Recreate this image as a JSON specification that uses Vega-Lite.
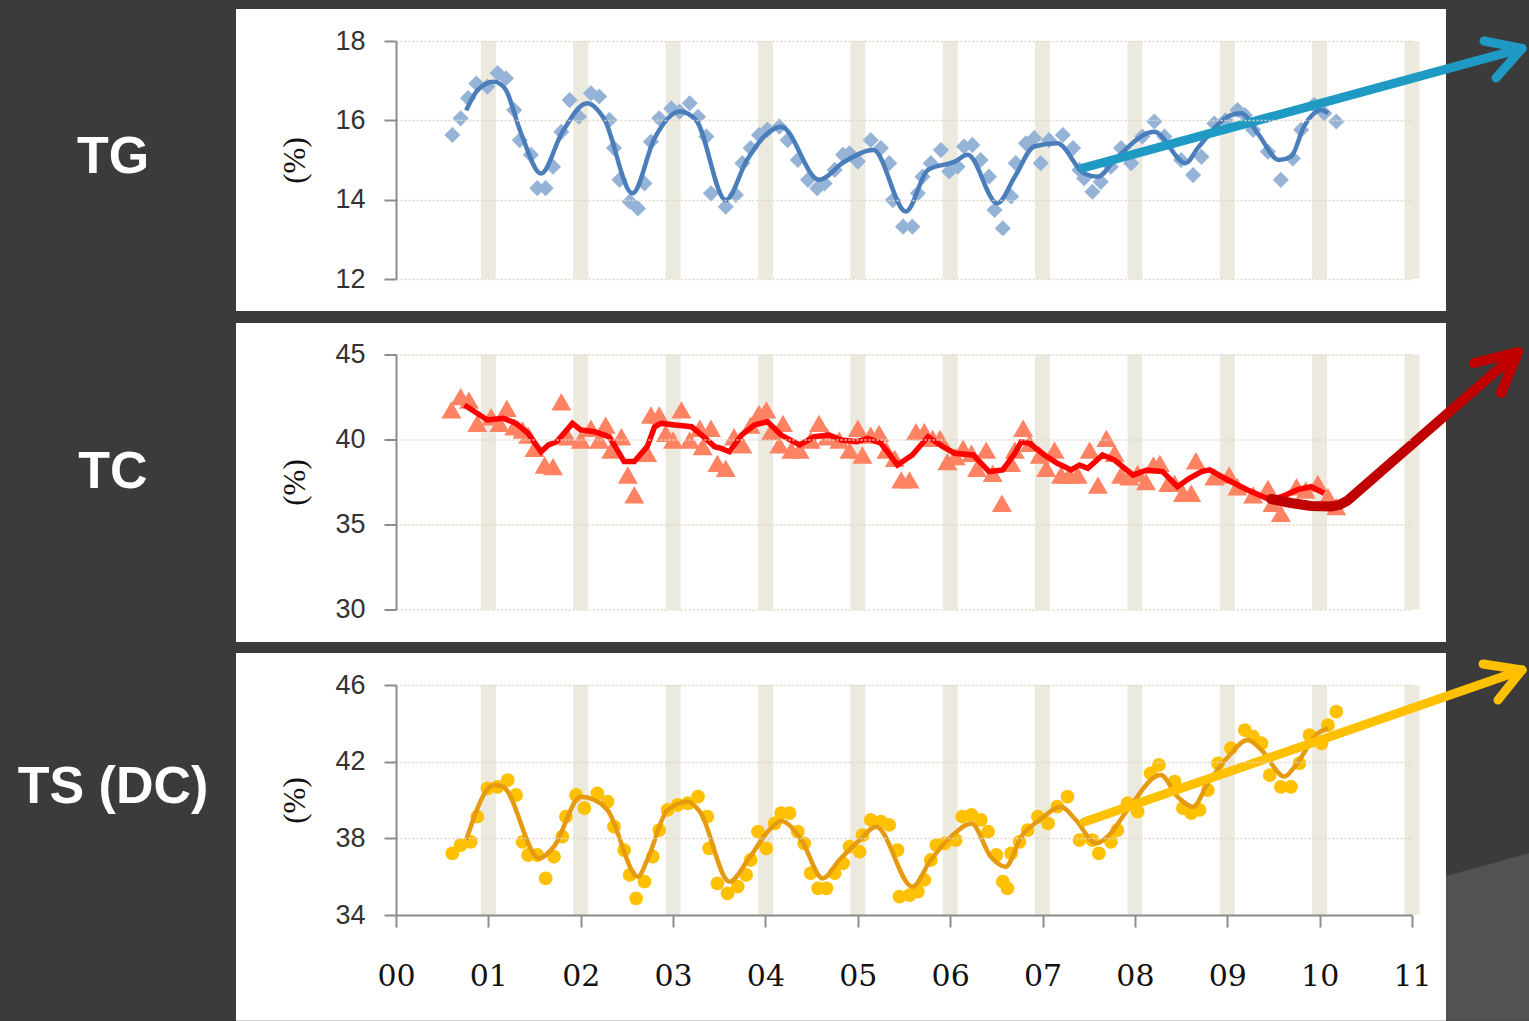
{
"$schema": "https://vega.github.io/schema/vega-lite/v6.json",
"background": "#3b3b3b",
"padding": 0,
"autosize": {"type": "pad"},
"bounds": "flush",
"spacing": 75.5,
"config": {
  "view": {"stroke": null},
  "axis": {"grid": false, "domainColor": "#8c8c8c", "domainWidth": 2, "tickColor": "#8c8c8c", "tickWidth": 2, "tickSize": 12, "labelColor": "#333333", "labelFlush": false},
  "axisY": {"grid": true, "gridColor": "#DDD7C8", "gridDash": [2, 2], "gridWidth": 1.5, "labelFont": "Liberation Sans", "labelFontSize": 27, "labelPadding": 19, "titleFont": "Liberation Serif", "titleFontSize": 31, "titleFontWeight": "normal", "titleColor": "#111111", "titleAngle": -90, "titleAlign": "center", "titleBaseline": "middle"},
  "axisX": {"labelFont": "DejaVu Serif", "labelFontSize": 30, "labelColor": "#111111", "labelPadding": 34, "grid": false}
},
"datasets": {
  "bands": [{"yr":1},{"yr":2},{"yr":3},{"yr":4},{"yr":5},{"yr":6},{"yr":7},{"yr":8},{"yr":9},{"yr":10},{"yr":11}],
  "tg": [
{"t":0.61,"v":15.63},{"t":0.70,"v":16.05},{"t":0.78,"v":16.56},{"t":0.87,"v":16.93},{"t":0.99,"v":16.85},{"t":1.10,"v":17.19},{"t":1.19,"v":17.06},{"t":1.28,"v":16.26},{"t":1.34,"v":15.50},{"t":1.46,"v":15.13},{"t":1.53,"v":14.29},{"t":1.62,"v":14.29},{"t":1.70,"v":14.83},{"t":1.79,"v":15.71},{"t":1.88,"v":16.51},{"t":1.98,"v":16.09},{"t":2.11,"v":16.68},{"t":2.20,"v":16.60},{"t":2.31,"v":16.01},{"t":2.36,"v":15.30},{"t":2.42,"v":14.50},{"t":2.53,"v":13.95},{"t":2.62,"v":13.78},{"t":2.69,"v":14.41},{"t":2.76,"v":15.46},{"t":2.85,"v":16.05},{"t":2.98,"v":16.30},{"t":3.07,"v":16.22},{"t":3.18,"v":16.43},{"t":3.27,"v":16.09},{"t":3.36,"v":15.59},{"t":3.41,"v":14.16},{"t":3.57,"v":13.82},{"t":3.68,"v":14.12},{"t":3.75,"v":14.92},{"t":3.84,"v":15.30},{"t":3.93,"v":15.63},{"t":4.02,"v":15.76},{"t":4.15,"v":15.84},{"t":4.24,"v":15.50},{"t":4.35,"v":15.00},{"t":4.46,"v":14.50},{"t":4.56,"v":14.29},{"t":4.64,"v":14.41},{"t":4.75,"v":14.75},{"t":4.84,"v":15.13},{"t":4.91,"v":15.17},{"t":5.00,"v":14.96},{"t":5.14,"v":15.50},{"t":5.25,"v":15.30},{"t":5.34,"v":14.92},{"t":5.38,"v":13.99},{"t":5.49,"v":13.32},{"t":5.59,"v":13.32},{"t":5.65,"v":14.16},{"t":5.70,"v":14.58},{"t":5.79,"v":14.92},{"t":5.90,"v":15.25},{"t":5.99,"v":14.71},{"t":6.08,"v":14.83},{"t":6.15,"v":15.34},{"t":6.24,"v":15.38},{"t":6.33,"v":15.00},{"t":6.42,"v":14.58},{"t":6.48,"v":13.74},{"t":6.57,"v":13.28},{"t":6.66,"v":14.08},{"t":6.71,"v":14.92},{"t":6.82,"v":15.42},{"t":6.91,"v":15.55},{"t":6.98,"v":14.92},{"t":7.07,"v":15.50},{"t":7.22,"v":15.63},{"t":7.33,"v":15.30},{"t":7.40,"v":14.75},{"t":7.45,"v":14.54},{"t":7.54,"v":14.20},{"t":7.63,"v":14.45},{"t":7.74,"v":14.83},{"t":7.85,"v":15.30},{"t":7.96,"v":14.92},{"t":8.08,"v":15.59},{"t":8.21,"v":15.97},{"t":8.32,"v":15.59},{"t":8.50,"v":15.00},{"t":8.63,"v":14.62},{"t":8.72,"v":15.08},{"t":8.86,"v":15.92},{"t":8.98,"v":16.00},{"t":9.11,"v":16.26},{"t":9.19,"v":16.13},{"t":9.28,"v":15.76},{"t":9.44,"v":15.21},{"t":9.58,"v":14.50},{"t":9.71,"v":15.04},{"t":9.80,"v":15.76},{"t":9.94,"v":16.39},{"t":10.05,"v":16.18},{"t":10.18,"v":15.97}
  ],
  "tg_line": [
{"t":0.76,"v":16.25},{"t":0.88,"v":16.75},{"t":1.06,"v":16.97},{"t":1.18,"v":16.80},{"t":1.35,"v":15.70},{"t":1.57,"v":14.66},{"t":1.80,"v":15.70},{"t":2.07,"v":16.43},{"t":2.25,"v":16.05},{"t":2.56,"v":14.16},{"t":2.80,"v":15.55},{"t":3.07,"v":16.22},{"t":3.25,"v":16.00},{"t":3.57,"v":13.99},{"t":3.80,"v":15.00},{"t":4.02,"v":15.67},{"t":4.17,"v":15.84},{"t":4.58,"v":14.50},{"t":4.85,"v":14.95},{"t":5.17,"v":15.25},{"t":5.52,"v":13.70},{"t":5.76,"v":14.75},{"t":6.05,"v":14.96},{"t":6.19,"v":15.13},{"t":6.51,"v":13.91},{"t":6.70,"v":14.58},{"t":6.91,"v":15.34},{"t":7.16,"v":15.42},{"t":7.45,"v":14.66},{"t":7.60,"v":14.58},{"t":7.78,"v":15.00},{"t":8.21,"v":15.71},{"t":8.55,"v":14.92},{"t":8.68,"v":15.30},{"t":9.04,"v":16.13},{"t":9.15,"v":16.18},{"t":9.33,"v":15.67},{"t":9.56,"v":15.00},{"t":9.69,"v":15.08},{"t":9.83,"v":15.84},{"t":10.02,"v":16.26},{"t":10.09,"v":16.18}
  ],
  "tc": [
{"t":0.60,"v":41.74},{"t":0.70,"v":42.52},{"t":0.79,"v":42.32},{"t":0.88,"v":40.95},{"t":1.03,"v":41.34},{"t":1.12,"v":40.95},{"t":1.20,"v":41.83},{"t":1.28,"v":40.75},{"t":1.37,"v":40.56},{"t":1.43,"v":40.26},{"t":1.50,"v":39.48},{"t":1.61,"v":38.50},{"t":1.70,"v":38.40},{"t":1.79,"v":42.22},{"t":1.86,"v":40.16},{"t":2.00,"v":39.97},{"t":2.11,"v":40.66},{"t":2.20,"v":39.97},{"t":2.27,"v":40.85},{"t":2.33,"v":39.38},{"t":2.44,"v":40.16},{"t":2.51,"v":37.91},{"t":2.58,"v":36.74},{"t":2.72,"v":39.19},{"t":2.76,"v":41.44},{"t":2.85,"v":41.44},{"t":2.92,"v":40.36},{"t":3.00,"v":39.97},{"t":3.09,"v":41.74},{"t":3.18,"v":39.97},{"t":3.29,"v":40.66},{"t":3.32,"v":39.58},{"t":3.41,"v":40.66},{"t":3.48,"v":38.60},{"t":3.57,"v":38.30},{"t":3.66,"v":40.16},{"t":3.75,"v":39.68},{"t":3.84,"v":40.85},{"t":3.93,"v":41.54},{"t":4.01,"v":41.74},{"t":4.06,"v":40.46},{"t":4.15,"v":39.68},{"t":4.19,"v":40.95},{"t":4.28,"v":39.38},{"t":4.37,"v":39.38},{"t":4.49,"v":39.97},{"t":4.58,"v":40.95},{"t":4.67,"v":40.16},{"t":4.80,"v":39.97},{"t":4.91,"v":39.38},{"t":5.00,"v":40.66},{"t":5.05,"v":39.09},{"t":5.14,"v":40.26},{"t":5.23,"v":40.36},{"t":5.31,"v":39.38},{"t":5.40,"v":38.89},{"t":5.47,"v":37.62},{"t":5.56,"v":37.62},{"t":5.63,"v":40.46},{"t":5.72,"v":40.46},{"t":5.81,"v":40.07},{"t":5.89,"v":40.07},{"t":5.97,"v":38.70},{"t":6.06,"v":38.99},{"t":6.14,"v":39.48},{"t":6.23,"v":39.19},{"t":6.29,"v":38.30},{"t":6.39,"v":39.38},{"t":6.46,"v":38.01},{"t":6.56,"v":36.25},{"t":6.66,"v":38.60},{"t":6.70,"v":39.38},{"t":6.79,"v":40.66},{"t":6.86,"v":39.78},{"t":6.97,"v":39.09},{"t":7.04,"v":38.30},{"t":7.13,"v":39.38},{"t":7.20,"v":37.91},{"t":7.29,"v":37.91},{"t":7.38,"v":37.91},{"t":7.51,"v":39.38},{"t":7.60,"v":37.32},{"t":7.69,"v":40.07},{"t":7.78,"v":39.19},{"t":7.85,"v":37.91},{"t":7.94,"v":37.81},{"t":8.03,"v":38.01},{"t":8.12,"v":37.52},{"t":8.20,"v":38.50},{"t":8.27,"v":38.60},{"t":8.36,"v":37.42},{"t":8.43,"v":37.42},{"t":8.52,"v":36.84},{"t":8.61,"v":36.84},{"t":8.66,"v":38.75},{"t":8.86,"v":37.81},{"t":9.02,"v":37.91},{"t":9.11,"v":37.22},{"t":9.28,"v":36.74},{"t":9.44,"v":37.13},{"t":9.49,"v":36.25},{"t":9.58,"v":35.66},{"t":9.75,"v":37.22},{"t":9.85,"v":37.03},{"t":9.98,"v":37.42},{"t":10.09,"v":36.64},{"t":10.18,"v":36.05}
  ],
  "tc_line": [
{"t":0.74,"v":42.03},{"t":0.99,"v":41.15},{"t":1.16,"v":41.25},{"t":1.30,"v":40.95},{"t":1.43,"v":40.36},{"t":1.57,"v":39.28},{"t":1.65,"v":39.68},{"t":1.74,"v":39.87},{"t":1.91,"v":40.95},{"t":2.00,"v":40.56},{"t":2.15,"v":40.46},{"t":2.31,"v":40.16},{"t":2.47,"v":38.70},{"t":2.58,"v":38.70},{"t":2.72,"v":39.58},{"t":2.80,"v":40.75},{"t":2.87,"v":40.95},{"t":3.02,"v":40.85},{"t":3.20,"v":40.75},{"t":3.31,"v":40.26},{"t":3.45,"v":39.58},{"t":3.52,"v":39.48},{"t":3.61,"v":39.28},{"t":3.74,"v":40.26},{"t":3.88,"v":40.85},{"t":4.02,"v":41.05},{"t":4.17,"v":40.26},{"t":4.37,"v":39.68},{"t":4.53,"v":40.16},{"t":4.69,"v":40.26},{"t":4.82,"v":39.97},{"t":4.99,"v":39.87},{"t":5.11,"v":40.07},{"t":5.25,"v":39.78},{"t":5.43,"v":38.50},{"t":5.59,"v":39.09},{"t":5.76,"v":40.16},{"t":5.92,"v":39.58},{"t":6.05,"v":39.19},{"t":6.25,"v":39.09},{"t":6.42,"v":38.11},{"t":6.57,"v":38.21},{"t":6.70,"v":39.19},{"t":6.77,"v":39.87},{"t":6.86,"v":39.78},{"t":7.02,"v":39.09},{"t":7.16,"v":38.60},{"t":7.31,"v":38.21},{"t":7.40,"v":38.50},{"t":7.49,"v":38.30},{"t":7.65,"v":39.09},{"t":7.78,"v":38.79},{"t":7.98,"v":37.91},{"t":8.13,"v":38.21},{"t":8.30,"v":38.11},{"t":8.46,"v":37.22},{"t":8.59,"v":37.72},{"t":8.72,"v":38.11},{"t":8.81,"v":38.21},{"t":8.97,"v":37.72},{"t":9.22,"v":37.03},{"t":9.47,"v":36.44},{"t":9.62,"v":36.70},{"t":9.76,"v":37.05},{"t":9.91,"v":37.22},{"t":10.05,"v":36.84}
  ],
  "ts": [
{"t":0.61,"v":37.22},{"t":0.70,"v":37.65},{"t":0.81,"v":37.82},{"t":0.88,"v":39.13},{"t":0.99,"v":40.61},{"t":1.10,"v":40.69},{"t":1.21,"v":41.04},{"t":1.30,"v":40.26},{"t":1.37,"v":37.82},{"t":1.43,"v":37.13},{"t":1.53,"v":37.13},{"t":1.62,"v":35.91},{"t":1.71,"v":37.04},{"t":1.80,"v":38.09},{"t":1.84,"v":39.13},{"t":1.95,"v":40.26},{"t":2.04,"v":39.57},{"t":2.18,"v":40.35},{"t":2.29,"v":39.91},{"t":2.36,"v":38.61},{"t":2.47,"v":37.39},{"t":2.53,"v":36.09},{"t":2.60,"v":34.87},{"t":2.69,"v":35.74},{"t":2.78,"v":37.04},{"t":2.85,"v":38.43},{"t":2.94,"v":39.48},{"t":3.05,"v":39.74},{"t":3.16,"v":39.83},{"t":3.27,"v":40.17},{"t":3.37,"v":39.13},{"t":3.39,"v":37.48},{"t":3.48,"v":35.65},{"t":3.59,"v":35.13},{"t":3.70,"v":35.48},{"t":3.79,"v":36.09},{"t":3.84,"v":36.87},{"t":3.92,"v":38.35},{"t":4.01,"v":37.48},{"t":4.10,"v":38.78},{"t":4.17,"v":39.31},{"t":4.26,"v":39.31},{"t":4.35,"v":38.35},{"t":4.42,"v":37.74},{"t":4.49,"v":36.18},{"t":4.57,"v":35.39},{"t":4.66,"v":35.39},{"t":4.75,"v":36.18},{"t":4.84,"v":36.70},{"t":4.91,"v":37.57},{"t":5.02,"v":37.30},{"t":5.05,"v":38.17},{"t":5.14,"v":38.96},{"t":5.25,"v":38.87},{"t":5.34,"v":38.70},{"t":5.43,"v":37.39},{"t":5.45,"v":34.96},{"t":5.56,"v":35.04},{"t":5.65,"v":35.22},{"t":5.72,"v":35.83},{"t":5.79,"v":36.87},{"t":5.85,"v":37.65},{"t":5.94,"v":37.74},{"t":6.06,"v":37.91},{"t":6.13,"v":39.13},{"t":6.23,"v":39.22},{"t":6.33,"v":38.96},{"t":6.41,"v":38.35},{"t":6.50,"v":37.13},{"t":6.57,"v":35.74},{"t":6.62,"v":35.39},{"t":6.66,"v":37.22},{"t":6.75,"v":37.82},{"t":6.84,"v":38.43},{"t":6.95,"v":39.13},{"t":7.06,"v":38.78},{"t":7.16,"v":39.65},{"t":7.27,"v":40.17},{"t":7.40,"v":37.91},{"t":7.54,"v":37.91},{"t":7.61,"v":37.22},{"t":7.74,"v":37.82},{"t":7.81,"v":38.43},{"t":7.92,"v":39.83},{"t":8.03,"v":39.39},{"t":8.17,"v":41.39},{"t":8.26,"v":41.83},{"t":8.43,"v":40.96},{"t":8.52,"v":39.57},{"t":8.61,"v":39.31},{"t":8.70,"v":39.48},{"t":8.79,"v":40.52},{"t":8.90,"v":41.91},{"t":9.04,"v":42.70},{"t":9.19,"v":43.65},{"t":9.28,"v":43.30},{"t":9.37,"v":42.96},{"t":9.46,"v":41.30},{"t":9.58,"v":40.69},{"t":9.69,"v":40.69},{"t":9.78,"v":41.91},{"t":9.89,"v":43.39},{"t":10.02,"v":42.96},{"t":10.09,"v":43.91},{"t":10.18,"v":44.61}
  ],
  "ts_line": [
{"t":0.76,"v":37.91},{"t":1.06,"v":40.78},{"t":1.16,"v":40.69},{"t":1.55,"v":36.96},{"t":1.71,"v":37.57},{"t":2.00,"v":40.17},{"t":2.15,"v":40.00},{"t":2.29,"v":39.48},{"t":2.62,"v":36.00},{"t":2.72,"v":36.87},{"t":2.94,"v":39.48},{"t":3.16,"v":39.91},{"t":3.29,"v":39.39},{"t":3.61,"v":35.74},{"t":3.81,"v":36.87},{"t":4.04,"v":38.43},{"t":4.17,"v":38.90},{"t":4.39,"v":37.91},{"t":4.62,"v":35.91},{"t":4.80,"v":36.87},{"t":5.00,"v":37.82},{"t":5.20,"v":38.61},{"t":5.59,"v":35.48},{"t":5.79,"v":36.87},{"t":6.01,"v":38.09},{"t":6.23,"v":38.78},{"t":6.44,"v":37.04},{"t":6.60,"v":36.52},{"t":6.77,"v":38.09},{"t":6.97,"v":38.96},{"t":7.20,"v":39.65},{"t":7.36,"v":38.96},{"t":7.58,"v":37.74},{"t":7.72,"v":38.17},{"t":7.92,"v":39.48},{"t":8.28,"v":41.30},{"t":8.46,"v":40.17},{"t":8.63,"v":39.65},{"t":8.79,"v":40.87},{"t":9.01,"v":42.26},{"t":9.22,"v":43.13},{"t":9.37,"v":42.61},{"t":9.62,"v":41.22},{"t":9.73,"v":41.74},{"t":9.98,"v":43.48},{"t":10.09,"v":43.74}
  ]
},
"vconcat": [
{
  "width": 1016, "height": 238,
  "layer": [
    {"data": {"values": [{}]}, "mark": {"type": "rect", "color": "#3b3b3b"},
     "encoding": {"x": {"datum": -4.2766, "type": "quantitative", "scale": {"domain": [0, 11], "nice": false, "zero": false}, "axis": null}, "x2": {"datum": 12.2775},
                  "y": {"datum": 19.0336, "type": "quantitative", "scale": {"domain": [12, 18], "nice": false, "zero": false}, "axis": {"values": [12, 14, 16, 18], "title": "(%)", "titleX": -101, "titleY": 119, "zindex": 1}}, "y2": {"datum": -6.7059}}},
    {"data": {"values": [{}]}, "mark": {"type": "rect", "color": "#ffffff"},
     "encoding": {"x": {"datum": -1.7323, "type": "quantitative", "scale": {"domain": [0, 11], "nice": false, "zero": false}, "axis": null}, "x2": {"datum": 11.368},
                  "y": {"datum": 18.807, "type": "quantitative", "scale": {"domain": [12, 18], "nice": false, "zero": false}, "axis": {"values": [12, 14, 16, 18], "title": "(%)", "titleX": -101, "titleY": 119, "zindex": 1}}, "y2": {"datum": 11.193}}},
    {"data": {"name": "bands"}, "mark": {"type": "rule", "color": "#ECE9DF", "strokeWidth": 15},
     "encoding": {"x": {"field": "yr", "type": "quantitative", "scale": {"domain": [0, 11], "nice": false, "zero": false}, "axis": null}}},
    {"data": {"name": "tg"}, "mark": {"type": "point", "shape": "diamond", "filled": true, "size": 260, "color": "#95B3D7", "opacity": 1},
     "encoding": {"x": {"field": "t", "type": "quantitative", "scale": {"domain": [0, 11], "nice": false, "zero": false}, "axis": null},
                  "y": {"field": "v", "type": "quantitative", "scale": {"domain": [12, 18], "nice": false, "zero": false}, "axis": {"values": [12, 14, 16, 18], "title": "(%)", "titleX": -101, "titleY": 119, "zindex": 1}}}},
    {"data": {"name": "tg_line"}, "mark": {"type": "line", "color": "#4A7EBB", "strokeWidth": 4.5, "interpolate": "monotone"},
     "encoding": {"x": {"field": "t", "type": "quantitative", "scale": {"domain": [0, 11], "nice": false, "zero": false}, "axis": null},
                  "y": {"field": "v", "type": "quantitative", "scale": {"domain": [12, 18], "nice": false, "zero": false}, "axis": {"values": [12, 14, 16, 18], "title": "(%)", "titleX": -101, "titleY": 119, "zindex": 1}}}},
    {"data": {"values": [{"t": 7.438, "v": 14.798, "t2": 12.191, "v2": 17.813}, {"t": 11.780, "v": 18.0, "t2": 12.191, "v2": 17.813}, {"t": 11.910, "v": 17.067, "t2": 12.191, "v2": 17.813}]},
     "mark": {"type": "rule", "color": "#1E9AC5", "strokeWidth": 9, "strokeCap": "round"},
     "encoding": {"x": {"field": "t", "type": "quantitative", "scale": {"domain": [0, 11], "nice": false, "zero": false}, "axis": null}, "x2": {"field": "t2"},
                  "y": {"field": "v", "type": "quantitative", "scale": {"domain": [12, 18], "nice": false, "zero": false}, "axis": {"values": [12, 14, 16, 18], "title": "(%)", "titleX": -101, "titleY": 119, "zindex": 1}}, "y2": {"field": "v2"}}},
    {"data": {"values": [{"label": "TG"}]}, "mark": {"type": "text", "font": "Liberation Sans", "fontWeight": "bold", "fontSize": 52, "color": "#ffffff", "align": "center", "baseline": "alphabetic"},
     "encoding": {"x": {"datum": -3.064, "type": "quantitative", "scale": {"domain": [0, 11], "nice": false, "zero": false}, "axis": null},
                  "y": {"datum": 14.672, "type": "quantitative", "scale": {"domain": [12, 18], "nice": false, "zero": false}, "axis": {"values": [12, 14, 16, 18], "title": "(%)", "titleX": -101, "titleY": 119, "zindex": 1}},
                  "text": {"field": "label"}}}
  ]
},
{
  "width": 1016, "height": 255,
  "layer": [
    {"data": {"values": [{}]}, "mark": {"type": "rect", "color": "#ffffff"},
     "encoding": {"x": {"datum": -1.7323, "type": "quantitative", "scale": {"domain": [0, 11], "nice": false, "zero": false}, "axis": null}, "x2": {"datum": 11.368},
                  "y": {"datum": 46.853, "type": "quantitative", "scale": {"domain": [30, 45], "nice": false, "zero": false}, "axis": {"values": [30, 35, 40, 45], "title": "(%)", "titleX": -101, "titleY": 127.5, "zindex": 1}}, "y2": {"datum": 28.088}}},
    {"data": {"name": "bands"}, "mark": {"type": "rule", "color": "#ECE9DF", "strokeWidth": 15},
     "encoding": {"x": {"field": "yr", "type": "quantitative", "scale": {"domain": [0, 11], "nice": false, "zero": false}, "axis": null}}},
    {"data": {"name": "tc"}, "mark": {"type": "point", "shape": "triangle-up", "filled": true, "size": 400, "color": "#FF8262", "opacity": 1},
     "encoding": {"x": {"field": "t", "type": "quantitative", "scale": {"domain": [0, 11], "nice": false, "zero": false}, "axis": null},
                  "y": {"field": "v", "type": "quantitative", "scale": {"domain": [30, 45], "nice": false, "zero": false}, "axis": {"values": [30, 35, 40, 45], "title": "(%)", "titleX": -101, "titleY": 127.5, "zindex": 1}}}},
    {"data": {"name": "tc_line"}, "mark": {"type": "line", "color": "#FF0000", "strokeWidth": 5.5},
     "encoding": {"x": {"field": "t", "type": "quantitative", "scale": {"domain": [0, 11], "nice": false, "zero": false}, "axis": null},
                  "y": {"field": "v", "type": "quantitative", "scale": {"domain": [30, 45], "nice": false, "zero": false}, "axis": {"values": [30, 35, 40, 45], "title": "(%)", "titleX": -101, "titleY": 127.5, "zindex": 1}}}},
    {"data": {"values": [{"t": 9.474, "v": 36.5}, {"t": 9.69, "v": 36.265}, {"t": 9.907, "v": 36.088}, {"t": 10.123, "v": 36.059}, {"t": 10.21, "v": 36.15}, {"t": 10.30, "v": 36.40}, {"t": 12.148, "v": 45.147}]},
     "mark": {"type": "line", "color": "#C00000", "strokeWidth": 10, "strokeCap": "round", "strokeJoin": "round"},
     "encoding": {"x": {"field": "t", "type": "quantitative", "scale": {"domain": [0, 11], "nice": false, "zero": false}, "axis": null},
                  "y": {"field": "v", "type": "quantitative", "scale": {"domain": [30, 45], "nice": false, "zero": false}, "axis": {"values": [30, 35, 40, 45], "title": "(%)", "titleX": -101, "titleY": 127.5, "zindex": 1}}}},
    {"data": {"values": [{"t": 11.671, "v": 44.5, "t2": 12.148, "v2": 45.147}, {"t": 11.964, "v": 42.735, "t2": 12.148, "v2": 45.147}]},
     "mark": {"type": "rule", "color": "#C00000", "strokeWidth": 10, "strokeCap": "round"},
     "encoding": {"x": {"field": "t", "type": "quantitative", "scale": {"domain": [0, 11], "nice": false, "zero": false}, "axis": null}, "x2": {"field": "t2"},
                  "y": {"field": "v", "type": "quantitative", "scale": {"domain": [30, 45], "nice": false, "zero": false}, "axis": {"values": [30, 35, 40, 45], "title": "(%)", "titleX": -101, "titleY": 127.5, "zindex": 1}}, "y2": {"field": "v2"}}},
    {"data": {"values": [{"label": "TC"}]}, "mark": {"type": "text", "font": "Liberation Sans", "fontWeight": "bold", "fontSize": 52, "color": "#ffffff", "align": "center", "baseline": "alphabetic"},
     "encoding": {"x": {"datum": -3.064, "type": "quantitative", "scale": {"domain": [0, 11], "nice": false, "zero": false}, "axis": null},
                  "y": {"datum": 37.147, "type": "quantitative", "scale": {"domain": [30, 45], "nice": false, "zero": false}, "axis": {"values": [30, 35, 40, 45], "title": "(%)", "titleX": -101, "titleY": 127.5, "zindex": 1}},
                  "text": {"field": "label"}}}
  ]
},
{
  "width": 1016, "height": 230,
  "layer": [
    {"data": {"values": [{"t": 11.368, "v": 36.035}, {"t": 12.2775, "v": 37.235}]}, "mark": {"type": "area", "color": "#525252", "opacity": 1},
     "encoding": {"x": {"field": "t", "type": "quantitative", "scale": {"domain": [0, 11], "nice": false, "zero": false}, "axis": {"values": [0, 1, 2, 3, 4, 5, 6, 7, 8, 9, 10, 11], "labelExpr": "(datum.value < 10 ? '0' : '') + datum.value", "title": null, "zindex": 1}},
                  "y": {"field": "v", "type": "quantitative", "scale": {"domain": [34, 46], "nice": false, "zero": false}, "axis": {"values": [34, 38, 42, 46], "title": "(%)", "titleX": -101, "titleY": 115, "zindex": 1}}, "y2": {"datum": 28.48}}},
    {"data": {"values": [{}]}, "mark": {"type": "rect", "color": "#ffffff"},
     "encoding": {"x": {"datum": -1.7323, "type": "quantitative", "scale": {"domain": [0, 11], "nice": false, "zero": false}, "axis": {"values": [0, 1, 2, 3, 4, 5, 6, 7, 8, 9, 10, 11], "labelExpr": "(datum.value < 10 ? '0' : '') + datum.value", "title": null, "zindex": 1}}, "x2": {"datum": 11.368},
                  "y": {"datum": 47.67, "type": "quantitative", "scale": {"domain": [34, 46], "nice": false, "zero": false}, "axis": {"values": [34, 38, 42, 46], "title": "(%)", "titleX": -101, "titleY": 115, "zindex": 1}}, "y2": {"datum": 28.48}}},
    {"data": {"name": "bands"}, "mark": {"type": "rule", "color": "#ECE9DF", "strokeWidth": 15},
     "encoding": {"x": {"field": "yr", "type": "quantitative", "scale": {"domain": [0, 11], "nice": false, "zero": false}, "axis": {"values": [0, 1, 2, 3, 4, 5, 6, 7, 8, 9, 10, 11], "labelExpr": "(datum.value < 10 ? '0' : '') + datum.value", "title": null, "zindex": 1}}}},
    {"data": {"name": "ts"}, "mark": {"type": "circle", "size": 190, "color": "#FFC000", "opacity": 1},
     "encoding": {"x": {"field": "t", "type": "quantitative", "scale": {"domain": [0, 11], "nice": false, "zero": false}, "axis": {"values": [0, 1, 2, 3, 4, 5, 6, 7, 8, 9, 10, 11], "labelExpr": "(datum.value < 10 ? '0' : '') + datum.value", "title": null, "zindex": 1}},
                  "y": {"field": "v", "type": "quantitative", "scale": {"domain": [34, 46], "nice": false, "zero": false}, "axis": {"values": [34, 38, 42, 46], "title": "(%)", "titleX": -101, "titleY": 115, "zindex": 1}}}},
    {"data": {"name": "ts_line"}, "mark": {"type": "line", "color": "#E69A10", "strokeWidth": 4.5, "interpolate": "monotone"},
     "encoding": {"x": {"field": "t", "type": "quantitative", "scale": {"domain": [0, 11], "nice": false, "zero": false}, "axis": {"values": [0, 1, 2, 3, 4, 5, 6, 7, 8, 9, 10, 11], "labelExpr": "(datum.value < 10 ? '0' : '') + datum.value", "title": null, "zindex": 1}},
                  "y": {"field": "v", "type": "quantitative", "scale": {"domain": [34, 46], "nice": false, "zero": false}, "axis": {"values": [34, 38, 42, 46], "title": "(%)", "titleX": -101, "titleY": 115, "zindex": 1}}}},
    {"data": {"values": [{"t": 7.449, "v": 38.852, "t2": 12.191, "v2": 46.783}, {"t": 11.769, "v": 47.096, "t2": 12.191, "v2": 46.783}, {"t": 11.931, "v": 45.217, "t2": 12.191, "v2": 46.783}]},
     "mark": {"type": "rule", "color": "#FFC000", "strokeWidth": 9, "strokeCap": "round"},
     "encoding": {"x": {"field": "t", "type": "quantitative", "scale": {"domain": [0, 11], "nice": false, "zero": false}, "axis": {"values": [0, 1, 2, 3, 4, 5, 6, 7, 8, 9, 10, 11], "labelExpr": "(datum.value < 10 ? '0' : '') + datum.value", "title": null, "zindex": 1}}, "x2": {"field": "t2"},
                  "y": {"field": "v", "type": "quantitative", "scale": {"domain": [34, 46], "nice": false, "zero": false}, "axis": {"values": [34, 38, 42, 46], "title": "(%)", "titleX": -101, "titleY": 115, "zindex": 1}}, "y2": {"field": "v2"}}},
    {"data": {"values": [{"label": "TS (DC)"}]}, "mark": {"type": "text", "font": "Liberation Sans", "fontWeight": "bold", "fontSize": 52, "color": "#ffffff", "align": "center", "baseline": "alphabetic"},
     "encoding": {"x": {"datum": -3.064, "type": "quantitative", "scale": {"domain": [0, 11], "nice": false, "zero": false}, "axis": {"values": [0, 1, 2, 3, 4, 5, 6, 7, 8, 9, 10, 11], "labelExpr": "(datum.value < 10 ? '0' : '') + datum.value", "title": null, "zindex": 1}},
                  "y": {"datum": 39.843, "type": "quantitative", "scale": {"domain": [34, 46], "nice": false, "zero": false}, "axis": {"values": [34, 38, 42, 46], "title": "(%)", "titleX": -101, "titleY": 115, "zindex": 1}},
                  "text": {"field": "label"}}}
  ]
}
]
}
